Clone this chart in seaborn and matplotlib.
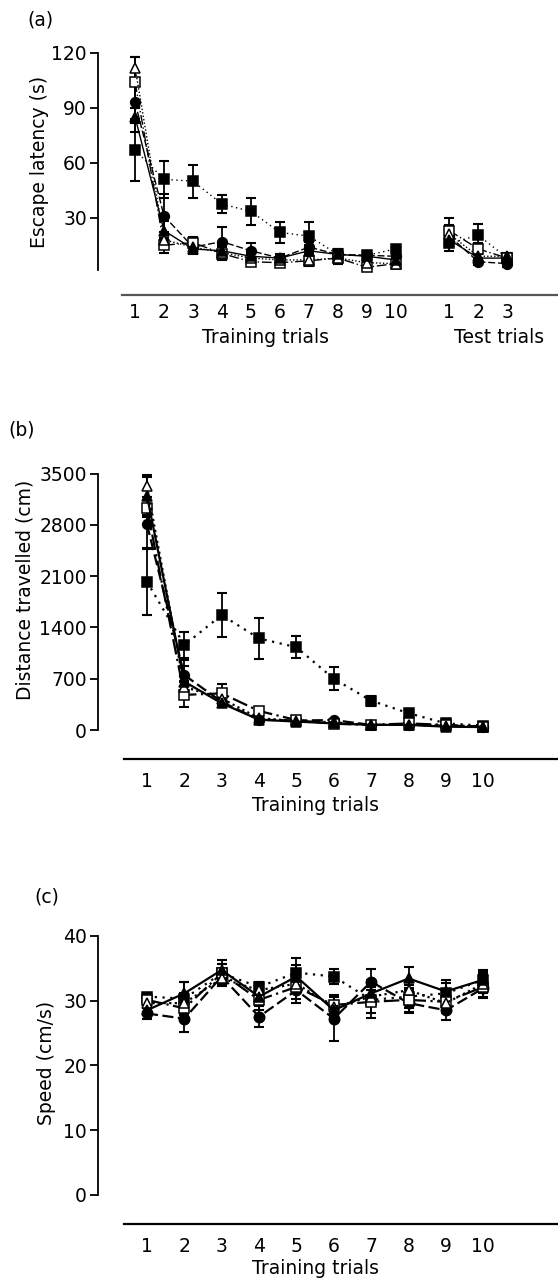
import numpy as np
import pandas as pd
import seaborn as sns
import matplotlib
matplotlib.use('Agg')
import matplotlib.pyplot as plt

sns.set_style('ticks', {'axes.edgecolor': 'k', 'text.color': 'k', 'axes.labelcolor': 'k',
                        'xtick.color': 'k', 'ytick.color': 'k'})
plt.rcParams['font.family'] = ['DejaVu Sans']
plt.rcParams['font.size'] = 13.5

trials = [1, 2, 3, 4, 5, 6, 7, 8, 9, 10]
test_trials = [1, 2, 3]
test_pos = [11.85, 12.85, 13.85]

# group styles (marker, face, linestyle)
groups = ['g1', 'g2', 'g3', 'g4', 'g5']
markers = {'g1': 's', 'g2': 'o', 'g3': 's', 'g4': '^', 'g5': '^'}
faces = {'g1': 'k', 'g2': 'k', 'g3': 'w', 'g4': 'w', 'g5': 'k'}
lstyles = {'g1': (0, (1, 2.5)), 'g2': (0, (5, 2)), 'g3': (0, (7, 2, 1, 2)),
           'g4': (0, (1, 1.5)), 'g5': '-'}

# (a) escape latency (s), training + test
lat_train = {
    'g1': [67, 51, 50, 37.5, 33.5, 22, 20, 10, 9.5, 13],
    'g2': [93, 31, 14, 17, 12, 8, 14, 10, 9.5, 9],
    'g3': [104, 15, 16.5, 10.5, 6, 5.5, 6.5, 8, 3, 5],
    'g4': [112, 18, 14, 11, 8, 7, 7, 8, 5.5, 5],
    'g5': [85, 23, 13, 12, 9, 8, 12, 10, 9, 7],
}
lat_train_err = {
    'g1': [17, 10, 9, 5, 7.5, 5.5, 7.5, 3, 2, 2],
    'g2': [11, 12, 3, 8, 4.5, 2, 3, 3, 2, 2],
    'g3': [14, 4, 3, 3.5, 2, 2, 3, 3, 1.5, 1.5],
    'g4': [6, 4, 3, 3, 2, 2, 2, 2, 1, 1],
    'g5': [8, 5, 3, 3, 2, 2, 3, 2, 2, 2],
}
lat_test = {
    'g1': [16, 20.5, 8],
    'g2': [20, 6, 5],
    'g3': [23, 13, 8],
    'g4': [21, 9, 9],
    'g5': [18, 8, 8],
}
lat_test_err = {
    'g1': [4, 6, 3],
    'g2': [4, 2, 2],
    'g3': [7, 3, 2],
    'g4': [5, 2, 2],
    'g5': [4, 2, 2],
}

# (b) distance travelled (cm)
dist = {
    'g1': [2025, 1160, 1570, 1250, 1130, 700, 400, 230, 90, 60],
    'g2': [2810, 750, 385, 140, 130, 135, 70, 70, 60, 45],
    'g3': [3025, 480, 500, 260, 135, 85, 70, 90, 70, 45],
    'g4': [3330, 590, 430, 160, 125, 105, 70, 70, 60, 45],
    'g5': [3200, 660, 365, 140, 115, 90, 70, 70, 45, 40],
}
dist_err = {
    'g1': [450, 180, 295, 285, 150, 160, 70, 60, 30, 30],
    'g2': [330, 200, 60, 30, 25, 20, 15, 15, 15, 10],
    'g3': [120, 170, 130, 60, 30, 20, 15, 15, 15, 10],
    'g4': [150, 80, 50, 30, 20, 20, 15, 15, 10, 10],
    'g5': [260, 220, 40, 30, 20, 20, 15, 15, 10, 10],
}

# (c) speed (cm/s)
speed = {
    'g1': [30.6, 30.3, 34.2, 32.1, 34.3, 33.7, 30.1, 30.6, 31.1, 33.2],
    'g2': [28.0, 27.2, 33.7, 27.5, 31.6, 27.2, 32.9, 29.6, 28.5, 31.9],
    'g3': [30.1, 28.8, 34.2, 30.1, 32.1, 29.3, 29.8, 30.1, 29.8, 32.1],
    'g4': [29.6, 29.6, 33.4, 31.6, 32.6, 29.0, 30.6, 31.6, 29.6, 32.6],
    'g5': [28.5, 31.1, 34.7, 30.6, 33.7, 28.5, 31.1, 33.4, 31.4, 33.2],
}
speed_err = {
    'g1': [0.5, 2.5, 1.5, 0.8, 2.3, 1.2, 2.8, 1.8, 1.6, 1.2],
    'g2': [0.8, 2.0, 1.2, 1.6, 2.0, 3.5, 2.0, 1.5, 1.5, 1.5],
    'g3': [0.7, 1.5, 1.5, 1.5, 1.8, 1.5, 1.8, 1.8, 1.5, 1.5],
    'g4': [0.7, 1.5, 1.2, 1.2, 1.5, 1.5, 1.5, 1.5, 1.5, 1.5],
    'g5': [0.8, 1.8, 1.6, 1.3, 1.8, 1.5, 2.0, 1.7, 1.7, 1.5],
}


def draw_series(ax, x, vals, errs, lw, ms):
    for g in groups:
        df = pd.DataFrame({'x': x, 'y': vals[g]})
        ax.errorbar(df.x, df.y, yerr=errs[g], fmt='none', ecolor='k',
                    elinewidth=1.3, capsize=3.6, capthick=1.5, clip_on=False, zorder=2)
        sns.lineplot(data=df, x='x', y='y', ax=ax, color='k', linestyle=lstyles[g],
                     linewidth=lw, marker=markers[g], markersize=ms,
                     markerfacecolor=faces[g], markeredgecolor='k', markeredgewidth=1.1,
                     errorbar=None, sort=False, clip_on=False, zorder=3)


def style_axes(ax, outward, xstart, xend, pad, bcolor):
    sns.despine(ax=ax)
    ax.spines['bottom'].set_position(('outward', outward))
    ax.spines['bottom'].set_bounds(xstart, xend)
    ax.spines['bottom'].set_linewidth(1.6)
    ax.spines['bottom'].set_color(bcolor)
    ax.spines['left'].set_linewidth(1.3)
    ax.tick_params(axis='x', length=0, pad=pad, labelsize=13.5)
    ax.tick_params(axis='y', length=6, width=1.3, labelsize=13.5, pad=2)
    ax.set_xlabel('')
    ax.set_ylabel('')


W, H = 558, 1283
fig = plt.figure(figsize=(W / 100, H / 100), dpi=100)

# panel (a)
ax_a = fig.add_axes([98 / W, 1 - 270 / H, 460 / W, 217 / H])
draw_series(ax_a, trials, lat_train, lat_train_err, 1.0, 7)
draw_series(ax_a, test_pos, lat_test, lat_test_err, 1.0, 7)
ax_a.set_xlim(-0.28, 15.6)
ax_a.set_ylim(1.5, 120)
ax_a.set_yticks([30, 60, 90, 120])
ax_a.set_xticks(trials + test_pos)
ax_a.set_xticklabels([str(t) for t in trials] + [str(t) for t in test_trials])
style_axes(ax_a, 18, 0.55, 15.6, 6, '#555555')
ax_a.set_ylabel('Escape latency (s)', fontsize=13.5)
ax_a.yaxis.set_label_coords(-0.107, 0.5)
ax_a.text(5.5, -0.31, 'Training trials', transform=ax_a.get_xaxis_transform(),
          ha='center', va='center', fontsize=13.5)
ax_a.text(12.0, -0.31, 'Test trials', transform=ax_a.get_xaxis_transform(),
          ha='left', va='center', fontsize=13.5)

# panel (b)
ax_b = fig.add_axes([98 / W, 1 - 730 / H, 460 / W, 256.3 / H])
draw_series(ax_b, trials, dist, dist_err, 1.6, 7)
ax_b.set_xlim(-0.31, 12.0)
ax_b.set_ylim(0, 3500)
ax_b.set_yticks([0, 700, 1400, 2100, 2800, 3500])
ax_b.set_xticks(trials)
style_axes(ax_b, 21, 0.385, 12.0, 9, 'k')
ax_b.set_ylabel('Distance travelled (cm)', fontsize=13.5)
ax_b.yaxis.set_label_coords(-0.139, 0.546)
ax_b.text(5.5, -0.293, 'Training trials', transform=ax_b.get_xaxis_transform(),
          ha='center', va='center', fontsize=13.5)

# panel (c)
ax_c = fig.add_axes([98 / W, 1 - 1195 / H, 460 / W, 259.3 / H])
draw_series(ax_c, trials, speed, speed_err, 1.6, 7.5)
ax_c.set_xlim(-0.31, 12.0)
ax_c.set_ylim(0, 40)
ax_c.set_yticks([0, 10, 20, 30, 40])
ax_c.set_xticks(trials)
style_axes(ax_c, 21, 0.385, 12.0, 9, 'k')
ax_c.set_ylabel('Speed (cm/s)', fontsize=13.5)
ax_c.yaxis.set_label_coords(-0.091, 0.51)
ax_c.text(5.5, -0.282, 'Training trials', transform=ax_c.get_xaxis_transform(),
          ha='center', va='center', fontsize=13.5)

for lbl, px, py in [('(a)', 40, 20), ('(b)', 22, 430), ('(c)', 47, 897)]:
    fig.text(px / W, 1 - py / H, lbl, ha='center', va='center', fontsize=13.5)

fig.savefig('out.png', dpi=100)
